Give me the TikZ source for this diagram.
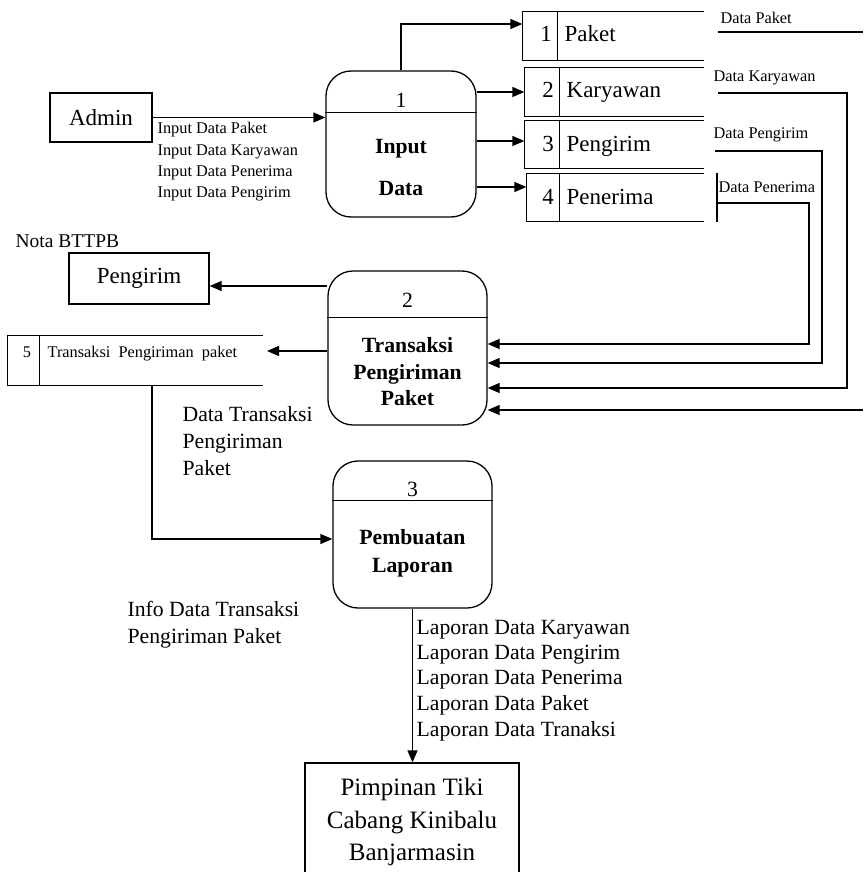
\documentclass[tikz,border=0pt]{standalone}
\usepackage{fontspec}
\setmainfont{Liberation Serif}
\usetikzlibrary{arrows.meta,calc}
\begin{document}
\begin{tikzpicture}[x=1pt,y=-1pt,
  line width=1.3pt,
  arr/.style={-{Triangle[length=12pt,width=10pt]}},
  proc/.style={draw, rounded corners=25pt, inner sep=0},
  ent/.style={draw, inner sep=0},
  sto/.style={inner sep=0},
  lbl/.style={inner sep=0, anchor=base west},
  ctr/.style={inner sep=0, anchor=base},
  fsm/.style={font=\fontsize{16.3}{19}\selectfont},
  fmd/.style={font=\fontsize{21.7}{26}\selectfont},
  fst/.style={font=\fontsize{23}{27}\selectfont},
  fbd/.style={font=\fontsize{21.7}{26}\selectfont\bfseries}
]
\useasboundingbox (0,0) rectangle (863,872);

% external entities
\node[ent, fst, minimum width=102, minimum height=49] (admin) at (101,117.5) {Admin};
\node[ent, fst, minimum width=140, minimum height=51] (peng) at (139,278.5) {Pengirim};
\node[ent, minimum width=214, minimum height=118, align=center,
      font=\fontsize{25}{32.5}\selectfont] (pimp) at (412,822) {Pimpinan Tiki\\Cabang Kinibalu\\Banjarmasin};

% processes
\node[proc, minimum width=150, minimum height=146] (p1) at (401,144) {};
\draw ($(p1.north west)+(0,42)$) -- ($(p1.north east)+(0,42)$);
\node[ctr, fmd] (p1n) at (401,107.2) {1};
\node[ctr, fbd] (p1a) at (401,153.2) {Input};
\node[ctr, fbd] (p1b) at (401,195.2) {Data};

\node[proc, minimum width=159, minimum height=154] (p2) at (407.5,348) {};
\draw ($(p2.north west)+(0,47)$) -- ($(p2.north east)+(0,47)$);
\node[ctr, fmd] (p2n) at (407.5,307.2) {2};
\node[ctr, fbd] (p2a) at (407.5,352.2) {Transaksi};
\node[ctr, fbd] (p2b) at (407.5,379.2) {Pengiriman};
\node[ctr, fbd] (p2c) at (407.5,405.2) {Paket};

\node[proc, minimum width=159, minimum height=147] (p3) at (412.5,534.5) {};
\draw ($(p3.north west)+(0,40)$) -- ($(p3.north east)+(0,40)$);
\node[ctr, fmd] (p3n) at (412.5,496.2) {3};
\node[ctr, fbd] (p3a) at (412.5,544.2) {Pembuatan};
\node[ctr, fbd] (p3b) at (412.5,572.2) {Laporan};

% data stores
\node[sto, minimum width=180, minimum height=48] (s1) at (613,36) {};
\draw (s1.north east) -- (s1.north west) -- (s1.south west) -- (s1.south east);
\draw ($(s1.north west)+(35,0)$) -- ($(s1.south west)+(35,0)$);
\node[ctr, fst] (s1n) at (546,41.6) {1};
\node[lbl, fst] (s1t) at (564,41.6) {Paket};

\node[sto, minimum width=178, minimum height=48] (s2) at (614,92) {};
\draw (s2.north east) -- (s2.north west) -- (s2.south west) -- (s2.south east);
\draw ($(s2.north west)+(35,0)$) -- ($(s2.south west)+(35,0)$);
\node[ctr, fst] (s2n) at (548,97.6) {2};
\node[lbl, fst] (s2t) at (566,97.6) {Karyawan};

\node[sto, minimum width=178, minimum height=47] (s3) at (614,144.5) {};
\draw (s3.north east) -- (s3.north west) -- (s3.south west) -- (s3.south east);
\draw ($(s3.north west)+(35,0)$) -- ($(s3.south west)+(35,0)$);
\node[ctr, fst] (s3n) at (548,151.6) {3};
\node[lbl, fst] (s3t) at (566,151.6) {Pengirim};

\node[sto, minimum width=176, minimum height=47] (s4) at (615,197.5) {};
\draw (s4.north east) -- (s4.north west) -- (s4.south west) -- (s4.south east);
\draw ($(s4.north west)+(33,0)$) -- ($(s4.south west)+(33,0)$);
\node[ctr, fst] (s4n) at (548,204.6) {4};
\node[lbl, fst] (s4t) at (566,204.6) {Penerima};

\node[sto, minimum width=254, minimum height=49] (s5) at (135,360.5) {};
\draw (s5.north east) -- (s5.north west) -- (s5.south west) -- (s5.south east);
\draw ($(s5.north west)+(32,0)$) -- ($(s5.south west)+(32,0)$);
\node[ctr, fsm] (s5n) at (27,357.4) {5};
\node[lbl, fsm] (s5t) at (47,357.4) {Transaksi\ \ Pengiriman\ \ paket};

% flows from Admin / process 1
\draw[arr] (admin.east) -- (admin.east -| p1.west);
\draw[arr] (p1.north) |- ([yshift=12pt]s1.west);
\draw[arr] (p1.east |- s2.west) -- (s2.west);
\coordinate (s3in) at ([yshift=3.5pt]s3.west);
\draw[arr] (p1.east |- s3in) -- (s3in);
\coordinate (s4in) at ([yshift=10.5pt]s4.west);
\draw[arr] (p1.east |- s4in) -- (s4in);

% flows from stores to process 2
\coordinate (dpa) at (718,32);
\coordinate (dpb) at (863,32);
\draw (dpa) -- (dpb);
\coordinate (dpc) at (863,410);
\draw[arr] (dpc) -- (dpc -| p2.east);

\coordinate (dka) at (718,93);
\coordinate (dkb) at (847,388);
\draw[arr] (dka) -| (dkb) -- (dkb -| p2.east);

\coordinate (dga) at (715,151);
\coordinate (dgb) at (822,363);
\draw[arr] (dga) -| (dgb) -- (dgb -| p2.east);

\coordinate (dna) at (718,203);
\coordinate (dnb) at (809,344);
\draw[arr] (dna) -| (dnb) -- (dnb -| p2.east);

\coordinate (bara) at (717,173);
\coordinate (barb) at (717,222);
\draw (bara) -- (barb);

% flows from process 2
\coordinate (pe) at ([yshift=-7.5pt]peng.east);
\draw[arr] (p2.west |- pe) -- (pe);
\coordinate (s5in) at (267,351);
\draw[arr] (p2.west |- s5in) -- (s5in);

% store 5 to process 3
\coordinate (s5out) at (152,385);
\draw[arr] (s5out) |- ($(p3.west)+(0,4.5)$);

% process 3 to Pimpinan
\draw[arr] (p3.south) -- (p3.south |- pimp.north);

% labels
\node[lbl, fsm] (l1) at (157,133.4) {Input Data Paket};
\node[lbl, fsm] (l2) at (157,155.4) {Input Data Karyawan};
\node[lbl, fsm] (l3) at (157,176.4) {Input Data Penerima};
\node[lbl, fsm] (l4) at (157,197.4) {Input Data Pengirim};

\node[lbl, fsm] (ldp) at (720,23.4) {Data Paket};
\node[lbl, fsm] (ldk) at (713,81.4) {Data Karyawan};
\node[lbl, fsm] (ldg) at (713,138.4) {Data Pengirim};
\node[lbl, fsm] (ldn) at (718,192.4) {Data Penerima};

\node[lbl, font=\fontsize{19.5}{23}\selectfont] (nota) at (15,247.4) {Nota BTTPB};

\node[lbl, fmd] (dt1) at (182,421.2) {Data Transaksi};
\node[lbl, fmd] (dt2) at (182,448.2) {Pengiriman};
\node[lbl, fmd] (dt3) at (182,475.2) {Paket};

\node[lbl, fmd] (in1) at (127,616.2) {Info Data Transaksi};
\node[lbl, fmd] (in2) at (127,643.2) {Pengiriman Paket};

\node[lbl, fmd] (lp1) at (416,634.2) {Laporan Data Karyawan};
\node[lbl, fmd] (lp2) at (416,659.2) {Laporan Data Pengirim};
\node[lbl, fmd] (lp3) at (416,684.2) {Laporan Data Penerima};
\node[lbl, fmd] (lp4) at (416,710.2) {Laporan Data Paket};
\node[lbl, fmd] (lp5) at (416,736.2) {Laporan Data Tranaksi};
\end{tikzpicture}
\end{document}
